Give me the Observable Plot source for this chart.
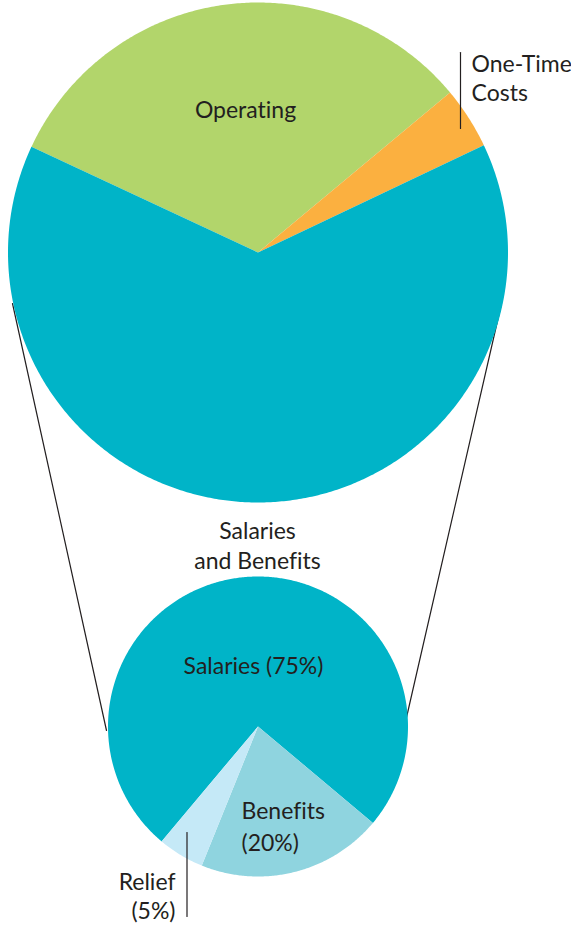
<!DOCTYPE html>
<html><head><meta charset="utf-8">
<script src="https://cdn.jsdelivr.net/npm/d3@7"></script>
<script src="https://cdn.jsdelivr.net/npm/@observablehq/plot@0.6"></script>
<style>body{margin:0;background:#fff} svg text{font-variant-ligatures:none}</style>
</head><body><div id="chart"></div>
<script>
// ---- data ----
const budgetCategories = ["Operating", "One-Time Costs", "Salaries and Benefits"];
const budgetShares = [32, 4, 64];
const salaryCategories = ["Salaries", "Benefits", "Relief"];
const salaryShares = [75, 20, 5];
const budgetLabels = ["Operating", "One-Time\nCosts", "Salaries\nand Benefits"];
const salaryLabels = ["Salaries (75%)", "Benefits\n(20%)", "Relief\n(5%)"];

// ---- styles ----
const budgetColors = ["#b2d56b", "#fbb040", "#00b4c8"];
const salaryColors = ["#00b4c8", "#8fd4df", "#c5e9f7"];
const ink = "#231f20";
const font = "Lato, 'Open Sans', sans-serif";

// ---- layout (data units: big pie radius = 1) ----
const W = 571, H = 930, unit = 250, cxPx = 257.5, cyPx = 252;
const px = v => (v - cxPx) / unit;          // pixel x -> data x
const py = v => -(v - cyPx) / unit;         // pixel y -> data y
const big = {cx: 0, cy: 0, r: 1, start: -65};
const small = {cx: 0, cy: py(726), r: 0.6, start: 220};

function slices(names, values, colors, pie) {
  const arcs = d3.pie().sort(null)
    .startAngle(pie.start * Math.PI / 180)
    .endAngle((pie.start + 360) * Math.PI / 180)(values);
  return arcs.map((a, i) => {
    const pts = [{x: pie.cx, y: pie.cy}];
    const n = Math.max(2, Math.ceil((a.endAngle - a.startAngle) / (Math.PI / 360)));
    for (let k = 0; k <= n; k++) {
      const t = a.startAngle + (a.endAngle - a.startAngle) * k / n;
      pts.push({x: pie.cx + pie.r * Math.sin(t), y: pie.cy + pie.r * Math.cos(t)});
    }
    return {name: names[i], color: colors[i], pts};
  });
}

const bigSlices = slices(budgetCategories, budgetShares, budgetColors, big);
const smallSlices = slices(salaryCategories, salaryShares, salaryColors, small);

const sliceMarks = [...bigSlices, ...smallSlices].map(s =>
  Plot.line(s.pts, {x: "x", y: "y", fill: s.color, stroke: "none", curve: "linear-closed"}));

const connectors = [
  [{x: px(12), y: py(303)}, {x: px(106), y: py(730)}],
  [{x: px(501), y: py(303)}, {x: px(406), y: py(717)}]
];
const leaders = [
  [{x: px(460), y: py(52)}, {x: px(460), y: py(128)}],
  [{x: px(186.5), y: py(832)}, {x: px(186.5), y: py(916)}]
];

const labelSpecs = [
  {text: budgetLabels[0], x: px(245), y: py(117), anchor: "middle", lh: 1.25},
  {text: budgetLabels[1], x: px(471), y: py(100), anchor: "start", lh: 1.22},
  {text: budgetLabels[2], x: px(257), y: py(568), anchor: "middle", lh: 1.3},
  {text: salaryLabels[0], x: px(253), y: py(673), anchor: "middle", lh: 1.25},
  {text: salaryLabels[1], x: px(241), y: py(850), anchor: "start", lh: 1.39},
  {text: salaryLabels[2], x: px(175), y: py(918), anchor: "end", lh: 1.22}
];

const textMarks = labelSpecs.map(l => Plot.text([l], {
  x: "x", y: "y", text: "text", textAnchor: l.anchor, lineAnchor: "bottom",
  lineHeight: l.lh, fontSize: 23, fontFamily: font, fill: ink
}));

const chart = Plot.plot({
  width: W, height: H,
  margin: 0,
  x: {domain: [px(0), px(W)], axis: null},
  y: {domain: [py(H), py(0)], axis: null},
  style: {background: "#fff"},
  marks: [
    ...connectors.map(c => Plot.line(c, {x: "x", y: "y", stroke: ink, strokeWidth: 1.2})),
    ...sliceMarks,
    ...leaders.map(c => Plot.line(c, {x: "x", y: "y", stroke: ink, strokeWidth: 1.2})),
    ...textMarks
  ]
});
document.getElementById("chart").appendChild(chart);
</script>
</body></html>
